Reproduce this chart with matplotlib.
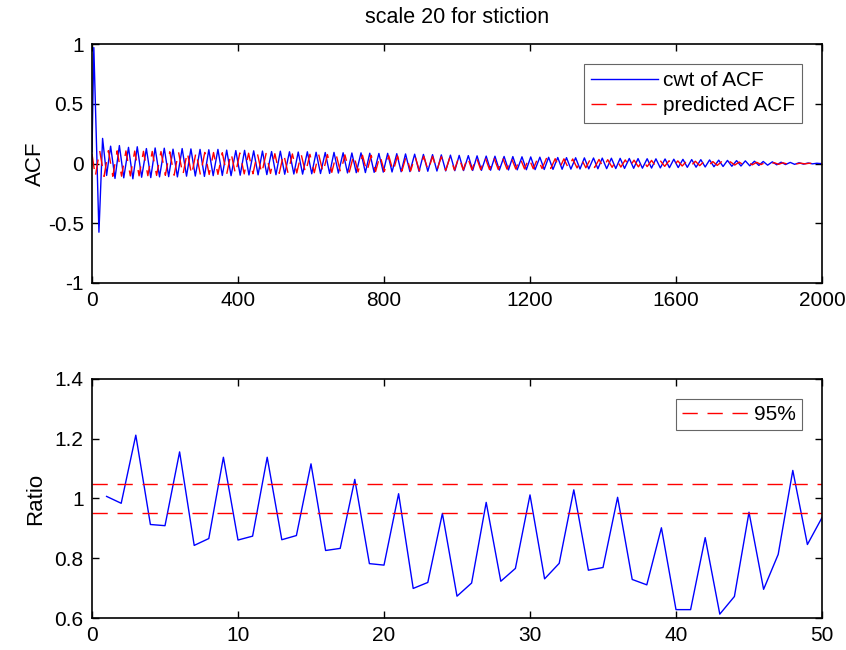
import matplotlib
matplotlib.use("Agg")
import matplotlib.pyplot as plt
import numpy as np

plt.rcParams['font.family'] = ['Liberation Sans', 'DejaVu Sans']

# ---------------- top panel data (ACF) ----------------
blue_start_lags = [0, 5, 19, 29, 40]
blue_start_vals = [0.10, 0.97, -0.575, 0.21, -0.10]

blue_peak_lags = [51, 75, 100, 124, 149, 173, 198, 222, 247, 271, 296, 320, 345, 369, 394, 418,
                  443, 467, 492, 516, 541, 565, 590, 614, 639, 663, 688, 712, 737, 761, 786, 810,
                  835, 859, 884, 908, 933, 957, 982, 1006, 1031, 1055, 1080, 1104, 1129, 1153,
                  1178, 1202, 1227, 1251, 1276, 1300, 1325, 1349, 1374, 1398, 1423, 1447, 1472,
                  1496, 1521, 1545, 1570, 1594, 1619, 1643, 1668, 1692, 1717, 1741, 1766, 1790,
                  1815, 1839, 1864, 1888, 1913, 1937, 1962, 1986]
blue_peak_vals = [0.145, 0.150, 0.135, 0.140, 0.125, 0.130, 0.128, 0.120, 0.125, 0.122, 0.118,
                  0.115, 0.118, 0.112, 0.108, 0.110, 0.106, 0.104, 0.100, 0.103, 0.098, 0.096,
                  0.098, 0.094, 0.092, 0.093, 0.090, 0.088, 0.089, 0.086, 0.084, 0.085, 0.082,
                  0.080, 0.078, 0.076, 0.074, 0.072, 0.070, 0.068, 0.066, 0.064, 0.062, 0.061,
                  0.059, 0.058, 0.056, 0.055, 0.053, 0.052, 0.050, 0.049, 0.048, 0.047, 0.046,
                  0.045, 0.044, 0.043, 0.042, 0.041, 0.040, 0.039, 0.038, 0.036, 0.035, 0.033,
                  0.032, 0.030, 0.028, 0.026, 0.024, 0.022, 0.019, 0.017, 0.014, 0.011, 0.009,
                  0.006, 0.004, 0.002]
blue_trough_lags = [63, 87, 112, 136, 161, 185, 210, 234, 259, 283, 308, 332, 357, 381, 406, 430,
                    455, 479, 504, 528, 553, 577, 602, 626, 651, 675, 700, 724, 749, 773, 798, 822,
                    847, 871, 896, 920, 945, 969, 994, 1018, 1043, 1067, 1092, 1116, 1141, 1165,
                    1190, 1214, 1239, 1263, 1288, 1312, 1337, 1361, 1386, 1410, 1435, 1459, 1484,
                    1508, 1533, 1557, 1582, 1606, 1631, 1655, 1680, 1704, 1729, 1753, 1778, 1802,
                    1827, 1851, 1876, 1900, 1925, 1949, 1974, 1998]
blue_trough_vals = [-0.125, -0.120, -0.128, -0.115, -0.118, -0.112, -0.110, -0.112, -0.106,
                    -0.105, -0.108, -0.102, -0.100, -0.102, -0.098, -0.096, -0.095, -0.093,
                    -0.094, -0.090, -0.088, -0.089, -0.086, -0.084, -0.083, -0.080, -0.079,
                    -0.077, -0.076, -0.074, -0.072, -0.071, -0.069, -0.068, -0.066, -0.065,
                    -0.063, -0.062, -0.060, -0.059, -0.058, -0.057, -0.056, -0.055, -0.054,
                    -0.053, -0.052, -0.051, -0.050, -0.049, -0.048, -0.047, -0.046, -0.045,
                    -0.044, -0.043, -0.042, -0.041, -0.040, -0.039, -0.038, -0.037, -0.035,
                    -0.034, -0.032, -0.031, -0.029, -0.027, -0.025, -0.023, -0.021, -0.019,
                    -0.016, -0.014, -0.011, -0.009, -0.007, -0.005, -0.003, -0.001]
blue_end = (2000, 0.0)

red_start = (0, 0.08)
red_peak_lags = [21, 45, 69, 93, 117, 141, 165, 189, 213, 237, 261, 285, 309, 333, 357, 381, 405,
                 429, 453, 477, 501, 525, 549, 573, 597, 621, 645, 669, 693, 717, 741, 765, 789,
                 813, 837, 861, 885, 909, 933, 957, 981, 1005, 1029, 1053, 1077, 1101, 1125, 1149,
                 1173, 1197, 1221, 1245, 1269, 1293, 1317, 1341, 1365, 1389, 1413, 1437, 1461,
                 1485, 1509, 1533, 1557, 1581, 1605, 1629, 1653, 1677, 1701, 1725, 1749, 1773,
                 1797, 1821, 1845, 1869, 1893, 1917, 1941, 1965, 1989]
red_peak_vals = [0.109, 0.108, 0.106, 0.105, 0.104, 0.102, 0.101, 0.100, 0.098, 0.097, 0.096,
                 0.094, 0.093, 0.092, 0.090, 0.089, 0.088, 0.086, 0.085, 0.084, 0.082, 0.081,
                 0.080, 0.078, 0.077, 0.076, 0.075, 0.073, 0.072, 0.071, 0.069, 0.068, 0.067,
                 0.065, 0.064, 0.063, 0.061, 0.060, 0.059, 0.057, 0.056, 0.055, 0.053, 0.052,
                 0.051, 0.049, 0.048, 0.047, 0.045, 0.044, 0.043, 0.042, 0.040, 0.039, 0.038,
                 0.036, 0.035, 0.034, 0.032, 0.031, 0.030, 0.028, 0.027, 0.026, 0.024, 0.023,
                 0.022, 0.020, 0.019, 0.018, 0.016, 0.015, 0.014, 0.012, 0.011, 0.010, 0.009,
                 0.007, 0.006, 0.005, 0.003, 0.002, 0.001]
red_trough_lags = [9, 33, 57, 81, 105, 129, 153, 177, 201, 225, 249, 273, 297, 321, 345, 369, 393,
                   417, 441, 465, 489, 513, 537, 561, 585, 609, 633, 657, 681, 705, 729, 753, 777,
                   801, 825, 849, 873, 897, 921, 945, 969, 993, 1017, 1041, 1065, 1089, 1113, 1137,
                   1161, 1185, 1209, 1233, 1257, 1281, 1305, 1329, 1353, 1377, 1401, 1425, 1449,
                   1473, 1497, 1521, 1545, 1569, 1593, 1617, 1641, 1665, 1689, 1713, 1737, 1761,
                   1785, 1809, 1833, 1857, 1881, 1905, 1929, 1953, 1977]
red_trough_vals = [-0.110, -0.108, -0.107, -0.106, -0.104, -0.103, -0.102, -0.100, -0.099,
                   -0.098, -0.096, -0.095, -0.094, -0.092, -0.091, -0.090, -0.088, -0.087,
                   -0.086, -0.084, -0.083, -0.082, -0.080, -0.079, -0.078, -0.077, -0.075,
                   -0.074, -0.073, -0.071, -0.070, -0.069, -0.067, -0.066, -0.065, -0.063,
                   -0.062, -0.061, -0.059, -0.058, -0.057, -0.055, -0.054, -0.053, -0.051,
                   -0.050, -0.049, -0.047, -0.046, -0.045, -0.044, -0.042, -0.041, -0.040,
                   -0.038, -0.037, -0.036, -0.034, -0.033, -0.032, -0.030, -0.029, -0.028,
                   -0.026, -0.025, -0.024, -0.022, -0.021, -0.020, -0.018, -0.017, -0.016,
                   -0.014, -0.013, -0.012, -0.011, -0.009, -0.008, -0.007, -0.005, -0.004,
                   -0.003, -0.001]
red_end = (2000, 0.0)

# ---------------- bottom panel data (Ratio) ----------------
ratio_x = list(range(1, 51))
ratio_vals = [1.007, 0.984, 1.212, 0.913, 0.909, 1.156, 0.843, 0.866, 1.138, 0.861,
              0.874, 1.138, 0.862, 0.876, 1.116, 0.826, 0.833, 1.064, 0.782, 0.777,
              1.016, 0.699, 0.719, 0.950, 0.673, 0.717, 0.987, 0.723, 0.766, 1.012,
              0.731, 0.783, 1.029, 0.760, 0.769, 1.004, 0.729, 0.711, 0.902, 0.628,
              0.628, 0.869, 0.613, 0.672, 0.954, 0.696, 0.813, 1.094, 0.846, 0.936]
conf_upper = 1.05
conf_lower = 0.95

top_xticks = [0, 400, 800, 1200, 1600, 2000]
top_yticks = [-1, -0.5, 0, 0.5, 1]
top_yticklabels = ['-1', '-0.5', '0', '0.5', '1']
bot_xticks = [0, 10, 20, 30, 40, 50]
bot_yticks = [0.6, 0.8, 1.0, 1.2, 1.4]
bot_yticklabels = ['0.6', '0.8', '1', '1.2', '1.4']


def merge(start_l, start_v, pl, pv, tl, tv, end):
    pts = list(zip(start_l, start_v)) + list(zip(pl, pv)) + list(zip(tl, tv)) + [end]
    pts.sort(key=lambda p: p[0])
    return [p[0] for p in pts], [p[1] for p in pts]


bx, by = merge(blue_start_lags, blue_start_vals, blue_peak_lags, blue_peak_vals,
               blue_trough_lags, blue_trough_vals, blue_end)
rx, ry = merge([red_start[0]], [red_start[1]], red_peak_lags, red_peak_vals,
               red_trough_lags, red_trough_vals, red_end)

W, H = 846, 650
fig = plt.figure(figsize=(W / 100, H / 100), dpi=100)
ax1 = fig.add_axes([92 / W, 1 - 283 / H, 730 / W, 239 / H])
ax2 = fig.add_axes([92 / W, 1 - 618 / H, 730 / W, 239 / H])

fs = 15
dash = (11, 7)

ax1.plot(bx, by, color='#0000ff', lw=1.0, label='cwt of ACF')
ax1.plot(rx, ry, color='#ff0000', lw=1.0, dashes=dash, label='predicted ACF')
ax1.set_xlim(0, 2000)
ax1.set_ylim(-1, 1)
ax1.set_xticks(top_xticks)
ax1.set_yticks(top_yticks)
ax1.set_yticklabels(top_yticklabels)
ax1.set_ylabel('ACF', fontsize=16)
ax1.set_title('scale 20 for stiction', fontsize=15.5, pad=15)
leg1 = ax1.legend(loc='upper right', fontsize=fs, frameon=True, fancybox=False,
                  edgecolor='#666666', framealpha=1, borderaxespad=0.95,
                  handlelength=3.2, handletextpad=0.25, borderpad=0.35, labelspacing=0.3)
leg1.get_frame().set_linewidth(0.8)

ax2.plot(ratio_x, ratio_vals, color='#0000ff', lw=1.0)
ax2.axhline(conf_upper, color='#ff0000', lw=1.0, dashes=dash, label='95%')
ax2.axhline(conf_lower, color='#ff0000', lw=1.0, dashes=dash)
ax2.set_xlim(0, 50)
ax2.set_ylim(0.6, 1.4)
ax2.set_xticks(bot_xticks)
ax2.set_yticks(bot_yticks)
ax2.set_yticklabels(bot_yticklabels)
ax2.set_ylabel('Ratio', fontsize=16)
leg2 = ax2.legend(loc='upper right', fontsize=fs, frameon=True, fancybox=False,
                  edgecolor='#666666', framealpha=1, borderaxespad=0.95,
                  handlelength=3.2, handletextpad=0.25, borderpad=0.3)
leg2.get_frame().set_linewidth(0.8)

for ax in (ax1, ax2):
    ax.tick_params(direction='in', top=True, right=True, length=5, width=1.0,
                   labelsize=fs, pad=6)
    for s in ax.spines.values():
        s.set_linewidth(1.2)
        s.set_color('black')

ax1.yaxis.set_label_coords(-0.063, 0.5)
ax2.yaxis.set_label_coords(-0.063, 0.5)

fig.savefig('out.png', dpi=100)
